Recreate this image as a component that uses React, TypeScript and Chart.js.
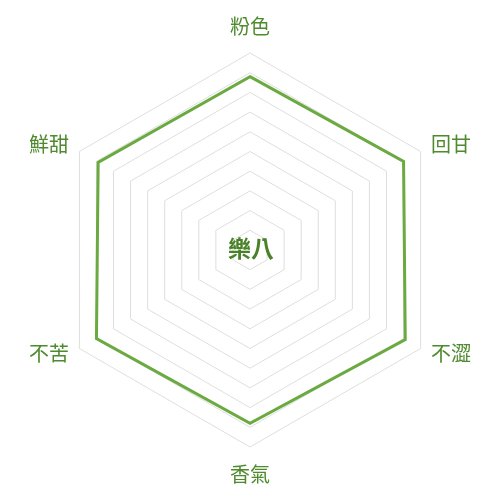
import { useEffect, useRef } from 'react';
import { Chart, registerables, Plugin } from 'chart.js';

Chart.register(...registerables);

const labels = ['粉色', '回甘', '不澀', '香氣', '不苦', '鮮甜'];
const scores = [88, 90, 91, 88, 90, 89];
const centerText = '樂八';

const LABEL_COLOR = '#4e8a2e';
const LINE_COLOR = '#6aaa40';
const FONT = '"Noto Sans CJK TC", "Noto Sans", sans-serif';

// draws the axis names and the center brand text
const radarText: Plugin<'radar'> = {
  id: 'radarText',
  afterDraw(chart) {
    const scale: any = chart.scales.r;
    const ctx = chart.ctx;
    ctx.save();
    ctx.fillStyle = LABEL_COLOR;
    ctx.font = `20px ${FONT}`;
    labels.forEach((name, i) => {
      const side = Math.abs(Math.sin(scale.getIndexAngle(i))) > 0.1;
      const p = scale.getPointPosition(i, scale.drawingArea + (side ? 12 : 17));
      const dx = p.x - scale.xCenter;
      const dy = p.y - scale.yCenter;
      ctx.textAlign = !side ? 'center' : dx > 0 ? 'left' : 'right';
      ctx.textBaseline = side ? 'middle' : dy < 0 ? 'bottom' : 'top';
      ctx.fillText(name, p.x, side ? p.y - 1 : p.y);
    });
    ctx.font = `bold 23px ${FONT}`;
    ctx.fillStyle = '#4a822a';
    ctx.textAlign = 'center';
    ctx.textBaseline = 'middle';
    ctx.fillText(centerText, scale.xCenter + 1, scale.yCenter - 2);
    ctx.restore();
  },
};

const TasteRadar = () => {
  const chartRef = useRef<HTMLCanvasElement>(null);
  const chartInstance = useRef<Chart | null>(null);

  useEffect(() => {
    if (!chartRef.current) return;
    if (chartInstance.current) chartInstance.current.destroy();

    chartInstance.current = new Chart(chartRef.current, {
      type: 'radar',
      data: {
        labels,
        datasets: [
          {
            data: scores,
            borderColor: LINE_COLOR,
            borderWidth: 3,
            backgroundColor: 'transparent',
            fill: false,
            pointRadius: 0,
            pointHoverRadius: 0,
          },
        ],
      },
      options: {
        animation: false,
        responsive: true,
        maintainAspectRatio: false,
        layout: { padding: 45 },
        plugins: {
          legend: { display: false },
          tooltip: { enabled: false },
        },
        scales: {
          r: {
            min: 0,
            max: 100,
            ticks: { display: false, stepSize: 10 },
            angleLines: { display: false },
            grid: { color: '#dedede', lineWidth: 1 },
            pointLabels: { display: false },
          },
        },
      },
      plugins: [radarText],
    });

    return () => {
      if (chartInstance.current) {
        chartInstance.current.destroy();
        chartInstance.current = null;
      }
    };
  }, []);

  return (
    <div style={{ width: '484px', height: '484px', position: 'relative' }}>
      <canvas ref={chartRef}></canvas>
    </div>
  );
};

export default function App() {
  return <TasteRadar />;
}
